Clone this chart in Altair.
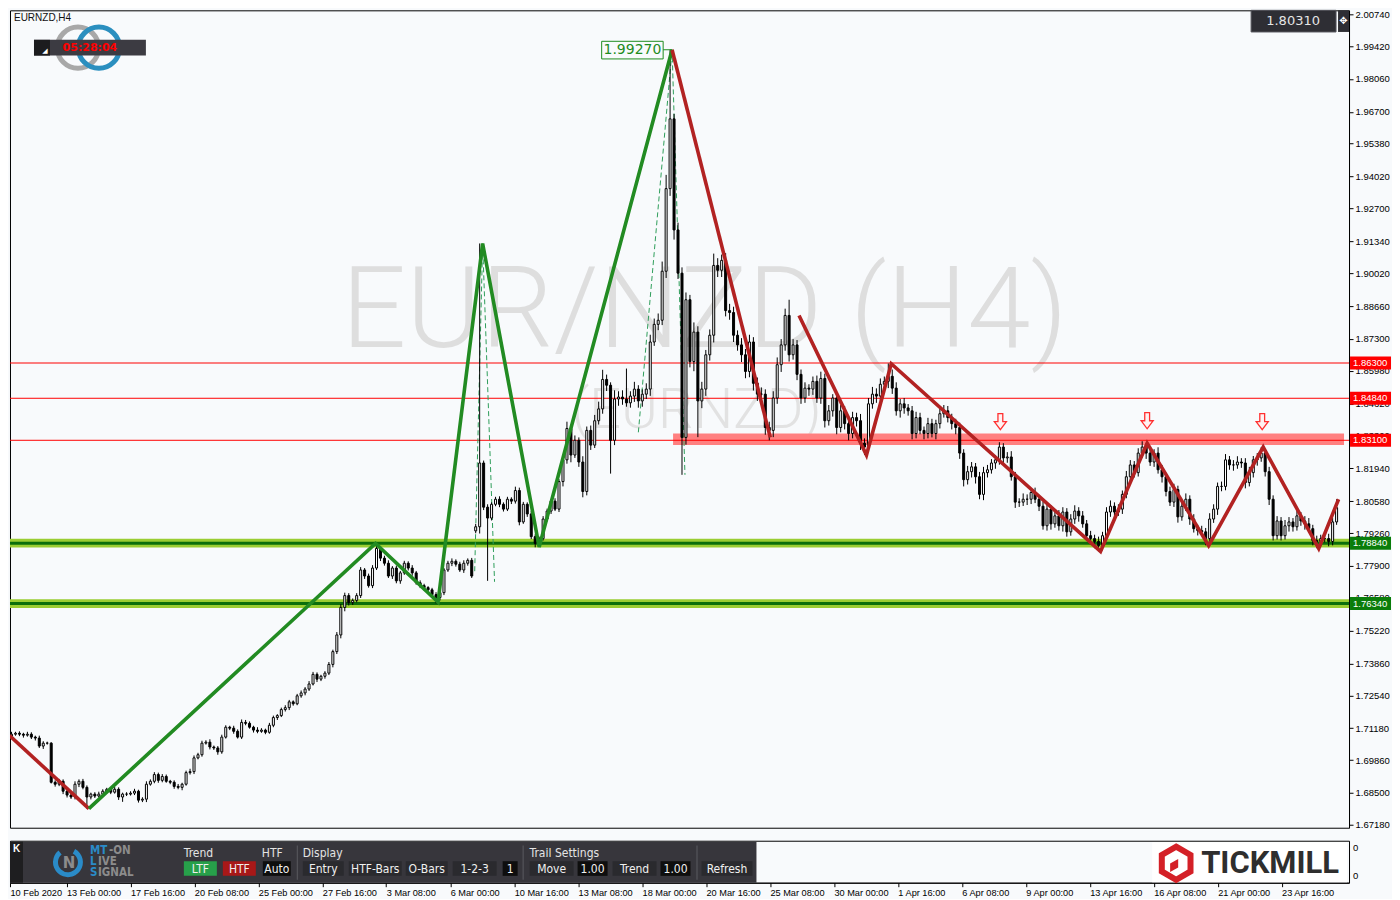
import json
import altair as alt
import pandas as pd

# ---------------- data ----------------
closes = [
    1.7085,1.7093,1.7097,1.7093,1.7089,1.7093,1.7081,1.7077,1.7044,1.7056,1.7056,1.6894,1.6886,1.6898,1.6857,1.6841,1.6833,1.6886,1.6898,1.6873,
    1.6833,1.6845,1.6837,1.6845,1.6857,1.6865,1.6853,1.6865,1.6833,1.6845,1.6845,1.6849,1.6857,1.6820,1.6824,1.6886,1.6898,1.6926,1.6902,1.6918,
    1.6898,1.6894,1.6877,1.6873,1.6886,1.6934,1.6938,1.6995,1.7008,1.7056,1.7060,1.7040,1.7036,1.7020,1.7081,1.7122,1.7118,1.7105,1.7081,1.7142,
    1.7138,1.7122,1.7110,1.7105,1.7110,1.7101,1.7130,1.7162,1.7170,1.7195,1.7203,1.7227,1.7219,1.7252,1.7264,1.7280,1.7301,1.7341,1.7321,1.7333,
    1.7346,1.7382,1.7435,1.7504,1.7618,1.7667,1.7638,1.7647,1.7667,1.7773,1.7748,1.7708,1.7781,1.7862,1.7822,1.7801,1.7748,1.7781,1.7728,1.7761,
    1.7801,1.7781,1.7761,1.7720,1.7708,1.7700,1.7691,1.7671,1.7659,1.7679,1.7773,1.7801,1.7809,1.7797,1.7773,1.7801,1.7813,1.7748,1.7952,1.8216,
    1.8033,1.7988,1.8045,1.8066,1.8045,1.8025,1.8066,1.8058,1.8102,1.7972,1.8045,1.8005,1.7911,1.7883,1.7903,1.7984,1.8017,1.8058,1.8025,1.8139,
    1.8229,1.8359,1.8249,1.8310,1.8220,1.8098,1.8351,1.8290,1.8391,1.8440,1.8562,1.8538,1.8310,1.8481,1.8489,1.8481,1.8465,1.8493,1.8522,1.8473,
    1.8501,1.8522,1.8717,1.8790,1.8807,1.9010,1.9352,1.9641,1.9181,1.9002,1.8322,1.8892,1.8636,1.8758,1.8473,1.8522,1.8664,1.8745,1.9034,1.9014,
    1.9055,1.8847,1.8839,1.8745,1.8705,1.8664,1.8595,1.8717,1.8546,1.8501,1.8501,1.8363,1.8351,1.8485,1.8623,1.8705,1.8827,1.8664,1.8705,1.8583,
    1.8485,1.8526,1.8522,1.8554,1.8485,1.8566,1.8391,1.8432,1.8485,1.8363,1.8432,1.8379,1.8338,1.8404,1.8391,1.8298,1.8282,1.8461,1.8501,1.8493,
    1.8542,1.8554,1.8575,1.8526,1.8432,1.8461,1.8444,1.8432,1.8338,1.8404,1.8351,1.8338,1.8379,1.8338,1.8379,1.8420,1.8432,1.8404,1.8379,1.8363,
    1.8257,1.8147,1.8180,1.8200,1.8159,1.8086,1.8176,1.8188,1.8216,1.8229,1.8282,1.8237,1.8241,1.8159,1.8054,1.8054,1.8066,1.8066,1.8094,1.8066,
    1.8037,1.7956,1.8025,1.7964,1.7997,1.7956,1.8013,1.7931,1.7984,1.8017,1.7997,1.7964,1.7915,1.7903,1.7891,1.7874,1.7915,1.8013,1.8037,1.8013,
    1.8025,1.8086,1.8159,1.8208,1.8176,1.8257,1.8282,1.8257,1.8220,1.8257,1.8188,1.8159,1.8098,1.8054,1.8106,1.7993,1.8037,1.8066,1.7984,1.7944,
    1.7936,1.7931,1.7903,1.7984,1.8025,1.8119,1.8119,1.8229,1.8208,1.8208,1.8220,1.8216,1.8135,1.8176,1.8229,1.8237,1.8257,1.8180,1.8066,1.7915,
    1.7976,1.7915,1.7956,1.7972,1.7952,1.7997,1.7976,1.7964,1.7944,1.7895,1.7891,1.7903,1.7903,1.7891,1.7972,1.8031,
]
# upper / lower wick lengths in pips (0.0001)
wick_up_pips = [
    8,10,6,8,6,10,8,6,10,8,6,4,8,10,8,6,10,12,8,10,
    8,6,8,10,8,6,8,10,8,6,8,8,10,6,8,12,8,10,8,10,
    8,6,8,10,6,8,12,10,8,10,8,12,6,8,10,8,6,10,8,12,
    10,8,6,12,8,6,10,8,6,8,10,8,6,8,10,8,12,10,8,6,
    8,10,8,12,14,12,10,8,10,12,8,10,12,16,8,10,12,8,10,8,
    10,8,12,8,10,8,6,8,10,12,8,10,12,8,10,12,8,10,12,909,
    10,12,8,10,12,8,10,8,16,12,10,8,12,10,8,12,10,8,12,10,
    12,28,16,20,12,24,16,20,24,30,40,20,12,36,24,28,126,20,30,16,
    20,24,30,24,28,40,57,286,20,30,24,30,20,40,24,30,20,24,49,30,
    24,30,28,24,20,28,24,30,20,24,28,20,24,28,30,24,28,65,24,20,
    20,24,16,20,24,28,20,24,16,20,24,20,16,24,20,28,20,24,30,24,
    24,20,53,28,24,20,24,16,20,24,20,16,24,20,16,20,24,20,16,20,
    20,16,24,20,16,20,24,20,16,20,20,16,20,24,20,16,24,20,16,20,
    16,20,24,16,20,24,20,16,20,24,16,20,16,20,16,20,16,20,24,16,
    20,16,24,20,16,20,24,16,20,16,24,20,16,20,24,16,20,24,16,20,
    16,20,16,24,20,16,20,24,16,20,24,16,20,24,16,20,24,16,20,16,
    20,16,24,20,16,20,16,20,24,16,20,16,12,20,16,35,
]
wick_dn_pips = [
    6,8,6,8,10,6,8,10,8,12,6,5,10,8,12,10,8,10,12,8,
    48,10,8,6,8,10,8,6,12,20,8,6,8,10,8,12,6,8,10,8,
    6,8,10,8,12,6,8,10,6,8,6,10,8,12,8,6,8,10,6,8,
    8,6,10,8,6,8,6,8,10,6,8,10,8,6,8,10,8,6,12,8,
    10,8,12,10,14,16,12,10,8,10,12,8,10,8,12,10,8,12,10,12,
    8,10,12,8,10,12,10,8,24,12,10,8,12,10,8,12,10,8,10,28,
    12,260,10,8,12,10,8,12,10,14,8,12,10,16,12,8,10,12,8,12,
    20,16,30,12,20,24,16,20,12,16,20,24,138,20,28,24,16,20,24,28,
    24,20,28,16,24,20,28,30,40,24,155,30,24,40,150,30,28,24,30,28,
    28,24,30,28,24,30,28,24,30,28,24,30,41,28,24,30,24,28,20,24,
    24,20,28,24,20,24,28,20,24,28,20,24,28,20,24,28,33,24,20,28,
    20,24,28,24,20,28,24,20,24,20,16,24,20,16,24,20,16,20,24,28,
    24,28,20,24,28,20,24,20,16,24,20,24,20,16,24,20,16,24,20,16,
    20,16,20,24,16,20,24,20,16,20,24,16,20,24,28,24,20,16,20,24,
    16,20,16,24,20,16,20,24,16,20,16,24,20,16,20,24,16,20,24,16,
    20,16,28,20,16,24,20,16,20,24,16,20,24,16,20,24,16,20,24,20,
    16,20,16,24,20,16,20,24,16,20,28,20,16,20,16,12,
]
first_open = 1.7089
gap_opens = {118: 1.7935}

date_labels = ["10 Feb 2020", "13 Feb 00:00", "17 Feb 16:00", "20 Feb 08:00", "25 Feb 00:00",
               "27 Feb 16:00", "3 Mar 08:00", "6 Mar 00:00", "10 Mar 16:00", "13 Mar 08:00",
               "18 Mar 00:00", "20 Mar 16:00", "25 Mar 08:00", "30 Mar 00:00", "1 Apr 16:00",
               "6 Apr 08:00", "9 Apr 00:00", "13 Apr 16:00", "16 Apr 08:00", "21 Apr 00:00",
               "23 Apr 16:00"]
y_tick_values = [2.0074, 1.9942, 1.9806, 1.9670, 1.9538, 1.9402, 1.9270, 1.9134, 1.9002, 1.8866,
                 1.8730, 1.8598, 1.8462, 1.8330, 1.8194, 1.8058, 1.7926, 1.7790, 1.7658, 1.7522,
                 1.7386, 1.7254, 1.7118, 1.6986, 1.6850, 1.6718]
red_levels = [1.8630, 1.8484, 1.8310]
green_levels = [1.7884, 1.7634]
red_band = [1.8291, 1.8338]
red_band_start = 167.75

# thick zigzag (trend) lines
zz_seg = ["a", "a",
          "b", "b", "b", "b", "b", "b",
          "c", "c",
          "d", "d", "d", "d", "d", "d", "d", "d", "d"]
zz_j = [0.5, 20.5,
        20.5, 92.75, 108.5, 119.75, 134.0, 167.5,
        167.5, 192.25,
        199.5, 216.5, 222.75, 275.5, 287.25, 302.75, 316.5, 330.5, 335.5]
zz_p = [1.7087, 1.6785,
        1.6785, 1.7883, 1.7640, 1.9125, 1.7868, 1.9927,
        1.9927, 1.8322,
        1.8827, 1.8249, 1.8627, 1.7850, 1.8298, 1.7874, 1.8282, 1.7862, 1.8066]
zz_color = {"a": "#B22222", "b": "#228B22", "c": "#B22222", "d": "#B22222"}

# thin dashed swing lines
dz_seg = ["g1", "g1", "g1", "g2", "g2", "g2"]
dz_j = [117.75, 119.75, 122.75, 159.0, 167.5, 170.75]
dz_p = [1.7768, 1.9125, 1.7724, 1.8343, 1.9927, 1.8167]

arrow_j = [250.25, 287.25, 316.25]
arrow_p = [1.8387, 1.8391, 1.8387]
peak_value = 1.9927
last_price = 1.8031

# ---------------- layout ----------------
W, H1, H2 = 1340, 818, 42
SY1 = H1 / 831.0
XD = [1.875, 336.875]
YD = [1.67058, 2.00903]
BG = "#F8FAFC"

def L(x): return x - 3                 # left-anchored reference px
def R(x): return W - (1353 - x)        # right-anchored reference px
def V(y): return (y - 3) * SY1         # main window vertical px
def S(y): return (y - 836) * H2 / 43.0 # sub window vertical px

n = len(closes)
opens = [first_open] + closes[:-1]
for k, v in gap_opens.items():
    opens[k] = v
highs = [round(max(o, c) + u / 1e4, 5) for o, c, u in zip(opens, closes, wick_up_pips)]
lows = [round(min(o, c) - d / 1e4, 5) for o, c, d in zip(opens, closes, wick_dn_pips)]
candles = pd.DataFrame({"j": list(range(n)), "o": opens, "h": highs, "l": lows, "c": closes})

xs = alt.Scale(domain=XD, nice=False, zero=False)
ys = alt.Scale(domain=YD, nice=False, zero=False)
yaxis = alt.Axis(orient="right", values=y_tick_values, format=".5f", grid=False, title=None,
                 labelFont="Liberation Sans", labelFontSize=9.5, labelColor="#000",
                 tickColor="#000", tickSize=4, domainColor="#000", labelPadding=2,
                 labelOverlap=False, labelBound=False)

def XQ(f): return alt.X(f, type="quantitative", scale=xs, axis=None)
def YQ(f): return alt.Y(f, type="quantitative", scale=ys, axis=yaxis)

one = pd.DataFrame({"k": [0]})

def rect(x1, y1, x2, y2, fill, **kw):
    return alt.Chart(one).mark_rect(fill=fill, **kw).encode(
        x=alt.value(x1), x2=alt.value(x2), y=alt.value(y1), y2=alt.value(y2))

def text(x, y, s, **kw):
    kw.setdefault("baseline", "middle")
    kw.setdefault("font", "Liberation Sans")
    return alt.Chart(one).mark_text(text=s, **kw).encode(x=alt.value(x), y=alt.value(y))

# ---------------- main window ----------------
layers = []
layers.append(text(L(698), V(345), "EUR/NZD (H4)", font="Roboto", fontWeight=300, fontSize=114,
                   color="#DEDEDE", align="center", baseline="alphabetic"))
layers.append(text(L(690), V(428), "(EURNZD)", font="Roboto", fontWeight=300, fontSize=56,
                   color="#E2E2E2", align="center", baseline="alphabetic"))

band_df = pd.DataFrame({"j0": [red_band_start], "j1": [XD[1]], "bot": [red_band[0]], "top": [red_band[1]]})
layers.append(alt.Chart(band_df).mark_rect(color="#FF8080", opacity=1).encode(
    x=XQ("j0"), x2="j1", y=YQ("top"), y2="bot"))

green_df = pd.DataFrame({"p": green_levels,
                         "top": [p + 0.0018 for p in green_levels],
                         "bot": [p - 0.0018 for p in green_levels]})
layers.append(alt.Chart(green_df).mark_rect(color="#9ACD32").encode(
    x=alt.value(0), x2=alt.value(W), y=YQ("top"), y2="bot"))
layers.append(alt.Chart(green_df).mark_rule(color="#0B6E0B", strokeWidth=3).encode(y=YQ("p")))

red_df = pd.DataFrame({"p": red_levels})
layers.append(alt.Chart(red_df).mark_rule(color="#FF0000", strokeWidth=1).encode(y=YQ("p")))

dz_df = pd.DataFrame({"seg": dz_seg, "k": list(range(len(dz_j))), "j": dz_j, "p": dz_p})
layers.append(alt.Chart(dz_df).mark_line(color="#2E9E5A", strokeWidth=1, strokeDash=[5, 3], clip=True).encode(
    x=XQ("j"), y=YQ("p"), detail="seg:N", order="k:Q"))

base = alt.Chart(candles)
layers.append(base.mark_rule(color="#000", strokeWidth=1, clip=True).encode(
    x=XQ("j"), y=YQ("l"), y2="h"))
layers.append(base.mark_bar(size=2, stroke="#000", strokeWidth=1, clip=True).encode(
    x=XQ("j"), y=YQ("o"), y2="c",
    fill=alt.condition("datum.c >= datum.o", alt.value("#FFFFFF"), alt.value("#000000"))))

zz_df = pd.DataFrame({"seg": zz_seg, "k": list(range(len(zz_j))), "j": zz_j, "p": zz_p,
                      "col": [zz_color[s] for s in zz_seg]})
layers.append(alt.Chart(zz_df).mark_line(strokeWidth=3.6, clip=True).encode(
    x=XQ("j"), y=YQ("p"), detail="seg:N", order="k:Q", color=alt.Color("col:N", scale=None)))

arrow_path = "M-0.3,-1L0.3,-1L0.3,0L0.75,0L0,1L-0.75,0L-0.3,0Z"
arr_df = pd.DataFrame({"j": arrow_j, "p": arrow_p})
layers.append(alt.Chart(arr_df).mark_point(shape=arrow_path, size=260, filled=True, fill="#FFF2F2",
                                           stroke="#FF3030", strokeWidth=1.3, opacity=1).encode(
    x=XQ("j"), y=YQ("p")))

# peak label
pk_box = pd.DataFrame({"j0": [149.75], "j1": [165.25], "top": [1.9962], "bot": [1.9889]})
layers.append(alt.Chart(pk_box).mark_rect(fill=BG, stroke="#1E8C1E", strokeWidth=1).encode(
    x=XQ("j0"), x2="j1", y=YQ("top"), y2="bot"))
pk_line = pd.DataFrame({"j0": [165.25], "j1": [167.5], "p": [peak_value]})
layers.append(alt.Chart(pk_line).mark_rule(color="#1E8C1E", strokeWidth=1).encode(
    x=XQ("j0"), x2="j1", y=YQ("p")))
pk_txt = pd.DataFrame({"j": [157.5], "p": [1.99255], "t": [f"{peak_value:.5f}"]})
layers.append(alt.Chart(pk_txt).mark_text(font="DejaVu Sans", fontSize=14, color="#1E8C1E",
                                          baseline="middle", align="center").encode(
    x=XQ("j"), y=YQ("p"), text="t:N"))

# top-left decorations
layers.append(text(L(7), V(11), "EURNZD,H4", fontSize=10, color="#111", align="left"))
layers.append(alt.Chart(one).mark_point(shape="circle", size=1700, filled=False, stroke="#A8A8A8",
                                        strokeWidth=5, opacity=1).encode(x=alt.value(L(71)), y=alt.value(V(41))))
layers.append(alt.Chart(one).mark_point(shape="circle", size=1700, filled=False, stroke="#2B8FBF",
                                        strokeWidth=5, opacity=1).encode(x=alt.value(L(92)), y=alt.value(V(41))))
layers.append(rect(L(27), V(33), L(139), V(49), "#3C3B42"))
layers.append(rect(L(27), V(33), L(43), V(49), "#1C1C1E"))
layers.append(text(L(38), V(44), "◢", fontSize=7, color="#FFFFFF", align="center", font="DejaVu Sans"))
layers.append(text(L(83), V(41), "05:28:04", fontSize=11, fontWeight="bold", color="#FF0000",
                   align="center", font="DejaVu Sans"))

# top-right decorations
layers.append(rect(R(1255), V(3), R(1340), V(25), "#2E2E34", stroke="#55555C", strokeWidth=1))
layers.append(text(R(1297), V(14), f"{last_price:.5f}", fontSize=13, color="#E6E6E6",
                   align="center", font="DejaVu Sans"))
layers.append(rect(R(1342), V(3), R(1353), V(25), "#2E2E34"))
layers.append(text(R(1347.5), V(14), "✥", fontSize=10, color="#FFFFFF", align="center", font="DejaVu Sans"))

# axis label boxes
box_levels = red_levels + green_levels
box_df = pd.DataFrame({"p": box_levels,
                       "top": [p + 0.0027 for p in box_levels],
                       "bot": [p - 0.0027 for p in box_levels],
                       "t": [f"{p:.5f}" for p in box_levels],
                       "col": ["#FF0000"] * len(red_levels) + ["#0A7D0A"] * len(green_levels)})
layers.append(alt.Chart(box_df).mark_rect().encode(
    x=alt.value(W + 1), x2=alt.value(W + 42), y=YQ("top"), y2="bot",
    fill=alt.Color("col:N", scale=None)))
layers.append(alt.Chart(box_df).mark_text(font="Liberation Sans", fontSize=9.5, color="#FFFFFF",
                                          align="left", baseline="middle").encode(
    x=alt.value(W + 4), y=YQ("p"), text="t:N"))

main = alt.layer(*layers).properties(width=W, height=H1)

# ---------------- sub window (panel + time axis) ----------------
tick_vals = [XD[0]] + [16 * k for k in range(1, len(date_labels))]
label_expr = json.dumps(date_labels) + "[round(datum.value / 16)]"
xaxis = alt.Axis(values=tick_vals, labelExpr=label_expr, labelAlign="left", labelFlush=False,
                 labelOverlap=False, labelBound=False, labelFont="Liberation Sans", labelFontSize=9.2,
                 labelColor="#000", tickColor="#000", tickSize=4, domainColor="#000", grid=False,
                 title=None, labelPadding=2)
sub = []
sub.append(alt.Chart(pd.DataFrame({"j": XD})).mark_rule(opacity=0).encode(
    x=alt.X("j:Q", scale=xs, axis=xaxis)))

sub.append(rect(L(3), S(837), L(750), S(879), "#37363C"))
sub.append(rect(L(3), S(837), L(16), S(879), "#1E1E20"))
sub.append(text(L(9.5), S(844), "K", fontSize=10, fontWeight="bold", color="#FFFFFF", align="center"))
# MT-ON logo
sub.append(alt.Chart(one).mark_arc(radius=15, radius2=10, theta=0.5, theta2=5.6, color="#2A8BC8").encode(
    x=alt.value(L(61)), y=alt.value(S(858))))
sub.append(text(L(62), S(859), "N", fontSize=15, fontWeight="bold", color="#8C8C8C", align="center",
                font="DejaVu Sans"))
logo_font = "DejaVu Sans Condensed, DejaVu Sans"
for yy, a, b in [(847, "MT", "-ON"), (858, "L", "IVE"), (869, "S", "IGNAL")]:
    sub.append(text(L(83), S(yy), a, fontSize=11.5, fontWeight="bold", color="#2A8BC8", align="left", font=logo_font))
    sub.append(text(L(83 + (19 if a == "MT" else 8)), S(yy), b, fontSize=11.5, fontWeight="bold",
                    color="#8C8C8C", align="left", font=logo_font))

btn_font = "Liberation Sans Narrow, DejaVu Sans Condensed, Liberation Sans"
for xx, s in [(177, "Trend"), (255, "HTF"), (296, "Display"), (523, "Trail Settings")]:
    sub.append(text(L(xx), S(849), s, fontSize=12, color="#E4E4E4", align="left", font=btn_font))
buttons = [(177, 210, "LTF", "#27A04A"), (216, 249, "HTF", "#A81818"), (256, 284, "Auto", "#0E0E0E"),
           (296, 337, "Entry", "#2A2A2E"), (342, 395, "HTF-Bars", "#2A2A2E"), (399, 441, "O-Bars", "#2A2A2E"),
           (446, 490, "1-2-3", "#2A2A2E"), (496, 511, "1", "#0E0E0E"), (523, 567, "Move", "#2A2A2E"),
           (571, 601, "1.00", "#0E0E0E"), (606, 650, "Trend", "#2A2A2E"), (654, 684, "1.00", "#0E0E0E"),
           (695, 746, "Refresh", "#2A2A2E")]
for x1, x2, s, f in buttons:
    sub.append(rect(L(x1), S(857), L(x2), S(872), f))
    sub.append(text(L((x1 + x2) / 2), S(864.5), s, fontSize=12, color="#F0F0F0", align="center", font=btn_font))
for xx in [290, 516, 690]:
    sub.append(rect(L(xx), S(841), L(xx) + 1, S(876), "#5A5A60"))

# Tickmill logo
sub.append(rect(R(1156), S(837.5), R(1351), S(878.5), "#FFFFFF"))
hex_path = "M0,-1L0.866,-0.5L0.866,0.5L0,1L-0.866,0.5L-0.866,-0.5Z"
sub.append(alt.Chart(one).mark_point(shape=hex_path, size=1100, filled=False, stroke="#D42027",
                                     strokeWidth=6, opacity=1).encode(x=alt.value(R(1180)), y=alt.value(S(859))))
sub.append(alt.Chart(one).mark_point(shape="M-0.5,-0.2L0.5,-0.75L0.5,0.3L-0.5,0.85Z", size=260, filled=True,
                                     fill="#D42027", opacity=1).encode(x=alt.value(R(1178)), y=alt.value(S(861))))
sub.append(text(R(1205), S(859.5), "TICKMILL", fontSize=31, fontWeight="bold", color="#2E2E2E",
                align="left", font="Roboto"))
sub.append(text(W + 4, S(843), "0", fontSize=9.5, color="#000", align="left"))
sub.append(text(W + 4, S(872), "0", fontSize=9.5, color="#000", align="left"))

subchart = alt.layer(*sub).properties(width=W, height=H2)

chart = alt.vconcat(main, subchart, spacing=3).properties(
    padding={"left": 0, "top": 0, "right": 0, "bottom": 0}, background=BG
).configure_view(stroke="#000000", strokeWidth=1, fill=BG)

chart.save("out.html", embed_options={"renderer": "svg", "actions": False})
